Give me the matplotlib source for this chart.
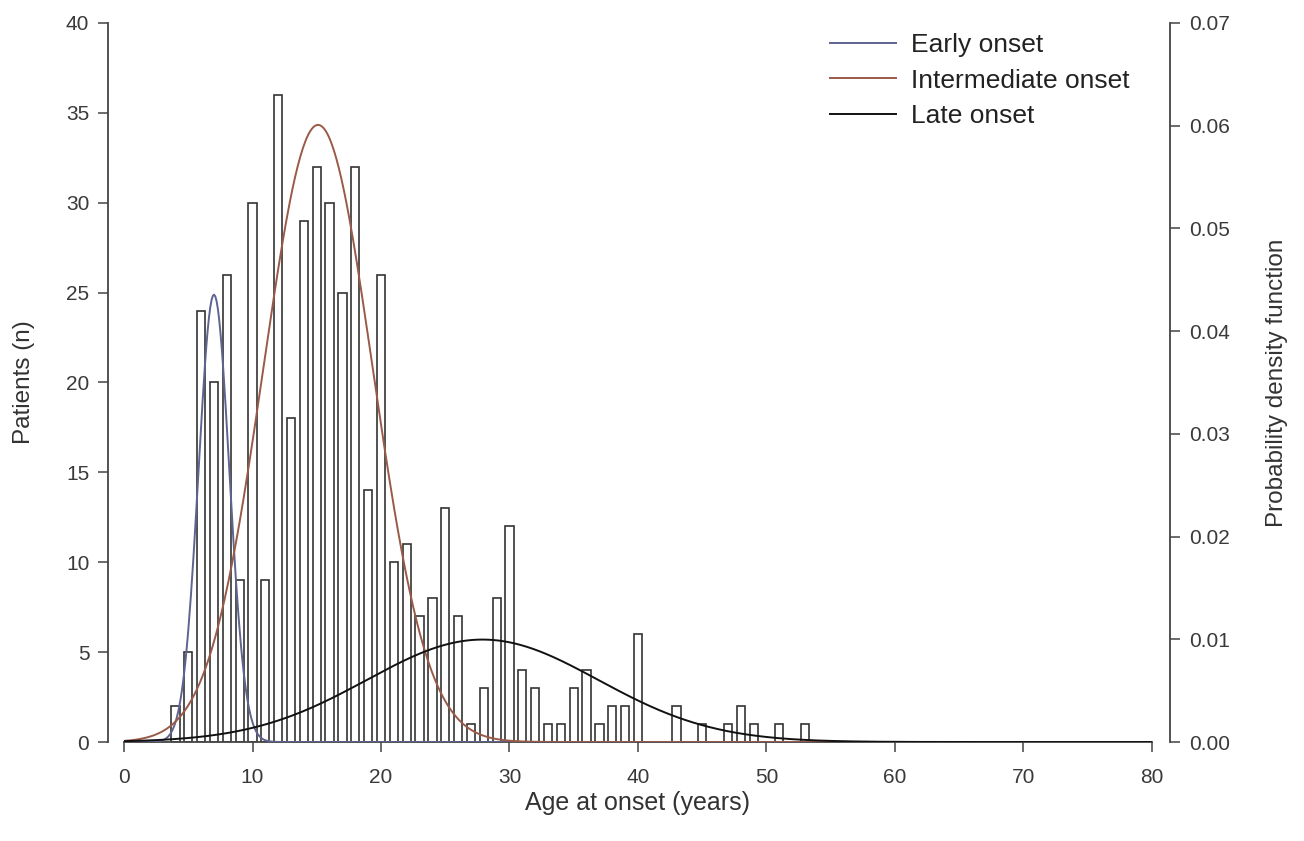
import numpy as np
import matplotlib.pyplot as plt

plt.rcParams['font.family'] = ['Liberation Sans', 'DejaVu Sans']

# Histogram: patients per age at onset
ages = np.arange(4, 54)
patients = [2, 5, 24, 20, 26, 9, 30, 9, 36, 18,
            29, 32, 30, 25, 32, 14, 26, 10, 11, 7,
            8, 13, 7, 1, 3, 8, 12, 4, 3, 1,
            1, 3, 4, 1, 2, 2, 6, 0, 0, 2,
            0, 1, 0, 1, 2, 1, 0, 1, 0, 1]

# Fitted mixture components (weight, mean, sd)
groups = ['Early onset', 'Intermediate onset', 'Late onset']
weights = [0.131, 0.64, 0.225]
means = [7.0, 15.1, 27.9]
sds = [1.2, 4.25, 9.0]
colors = ['#5f6390', '#9a5a48', '#111111']

fig = plt.figure(figsize=(13.04, 8.41), dpi=100)
ax = fig.add_axes([0.0951, 0.1177, 0.7883, 0.855])
ax.bar(ages, patients, width=0.64, facecolor='white', edgecolor='#333333', linewidth=1.2)
ax.set_xlim(0, 80)
ax.set_ylim(0, 40)
ax.set_xticks(range(0, 81, 10))
ax.set_yticks(range(0, 41, 5))

ax2 = ax.twinx()
x = np.linspace(0, 80, 800)
for name, w, m, s, c in zip(groups, weights, means, sds, colors):
    pdf = w * np.exp(-0.5 * ((x - m) / s) ** 2) / (s * np.sqrt(2 * np.pi))
    ax2.plot(x, pdf, color=c, linewidth=1.4, label=name)
ax2.set_ylim(0, 0.07)
ax2.set_yticks(np.arange(0, 0.071, 0.01))
ax2.set_yticklabels([f'{v:.2f}' for v in np.arange(0, 0.071, 0.01)])

for a in (ax, ax2):
    a.spines['top'].set_visible(False)
    a.tick_params(colors='#444444', labelcolor='#3a3a3a', labelsize=15, length=7.5, width=1.1,
                  direction='out', pad=6)
    for sp in a.spines.values():
        sp.set_color('#444444')
        sp.set_linewidth(1.3)
ax.spines['right'].set_visible(False)
ax2.spines['left'].set_visible(False)
ax2.spines['bottom'].set_visible(False)
ax.spines['left'].set_position(('outward', 11.5))
ax2.spines['right'].set_position(('outward', 13))
ax.tick_params(axis='x', pad=11)

ax.set_xlabel('Age at onset (years)', fontsize=18, color='#333333', labelpad=3)
ax.set_ylabel('Patients (n)', fontsize=17.5, color='#333333', labelpad=22)
ax2.set_ylabel('Probability density function', fontsize=17.5, color='#333333', labelpad=26)

leg = ax2.legend(loc='upper left', bbox_to_anchor=(830 / 1304, 1 - 33 / 841),
                 bbox_transform=fig.transFigure, frameon=False, fontsize=19,
                 borderpad=0, borderaxespad=0, handlelength=2.5, handletextpad=0.58,
                 labelspacing=0.44)
for t in leg.get_texts():
    t.set_color('#222222')

fig.savefig('out.png', dpi=100)
